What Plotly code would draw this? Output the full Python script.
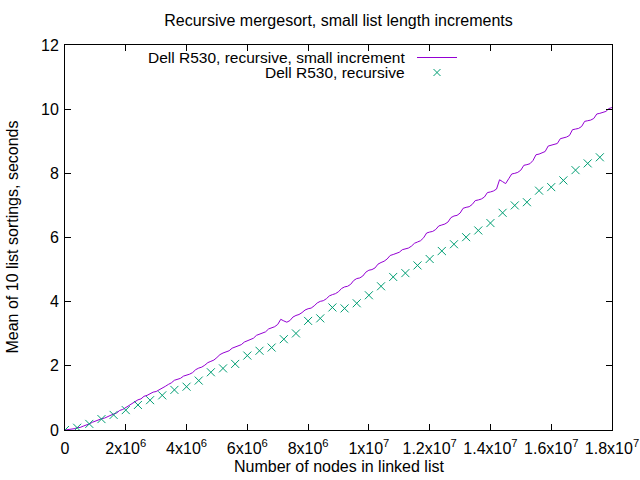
import plotly.graph_objects as go

# ---- data ----
# line series: list length in millions of nodes, mean time in seconds
line_millions = [
    0.0, 0.1, 0.2, 0.3, 0.4, 0.5, 0.6, 0.7, 0.8, 0.9,
    1.0, 1.1, 1.2, 1.3, 1.4, 1.5, 1.6, 1.7, 1.8, 1.9,
    2.0, 2.1, 2.2, 2.3, 2.4, 2.5, 2.6, 2.7, 2.8, 2.9,
    3.0, 3.1, 3.2, 3.3, 3.4, 3.5, 3.6, 3.7, 3.8, 3.9,
    4.0, 4.1, 4.2, 4.3, 4.4, 4.5, 4.6, 4.7, 4.8, 4.9,
    5.0, 5.1, 5.2, 5.3, 5.4, 5.5, 5.6, 5.7, 5.8, 5.9,
    6.0, 6.1, 6.2, 6.3, 6.4, 6.5, 6.6, 6.7, 6.8, 6.9,
    7.0, 7.1, 7.2, 7.3, 7.4, 7.5, 7.6, 7.7, 7.8, 7.9,
    8.0, 8.1, 8.2, 8.3, 8.4, 8.5, 8.6, 8.7, 8.8, 8.9,
    9.0, 9.1, 9.2, 9.3, 9.4, 9.5, 9.6, 9.7, 9.8, 9.9,
    10.0, 10.1, 10.2, 10.3, 10.4, 10.5, 10.6, 10.7, 10.8, 10.9,
    11.0, 11.1, 11.2, 11.3, 11.4, 11.5, 11.6, 11.7, 11.8, 11.9,
    12.0, 12.1, 12.2, 12.3, 12.4, 12.5, 12.6, 12.7, 12.8, 12.9,
    13.0, 13.1, 13.2, 13.3, 13.4, 13.5, 13.6, 13.7, 13.8, 13.9,
    14.0, 14.1, 14.2, 14.3, 14.4, 14.5, 14.6, 14.7, 14.8, 14.9,
    15.0, 15.1, 15.2, 15.3, 15.4, 15.5, 15.6, 15.7, 15.8, 15.9,
    16.0, 16.1, 16.2, 16.3, 16.4, 16.5, 16.6, 16.7, 16.8, 16.9,
    17.0, 17.1, 17.2, 17.3, 17.4, 17.5, 17.6, 17.7, 17.8, 17.9,
    18.0,
]
line_secs = [
    0.00, 0.01, 0.03, 0.04, 0.07, 0.08, 0.12, 0.15, 0.19, 0.24,
    0.28, 0.31, 0.35, 0.37, 0.42, 0.46, 0.50, 0.53, 0.61, 0.64,
    0.70, 0.76, 0.82, 0.86, 0.94, 0.97, 1.05, 1.08, 1.13, 1.18,
    1.20, 1.25, 1.29, 1.36, 1.42, 1.47, 1.55, 1.57, 1.61, 1.68,
    1.70, 1.74, 1.79, 1.88, 1.93, 1.96, 2.02, 2.10, 2.14, 2.18,
    2.26, 2.35, 2.40, 2.43, 2.47, 2.55, 2.59, 2.62, 2.66, 2.74,
    2.78, 2.82, 2.86, 2.95, 2.98, 3.02, 3.06, 3.15, 3.19, 3.22,
    3.29, 3.45, 3.40, 3.36, 3.41, 3.52, 3.57, 3.60, 3.66, 3.74,
    3.78, 3.80, 3.87, 3.96, 4.01, 4.03, 4.09, 4.18, 4.22, 4.25,
    4.31, 4.41, 4.46, 4.48, 4.54, 4.66, 4.72, 4.74, 4.80, 4.92,
    4.98, 5.00, 5.05, 5.17, 5.22, 5.26, 5.33, 5.44, 5.47, 5.50,
    5.54, 5.62, 5.65, 5.67, 5.73, 5.82, 5.86, 5.90, 5.99, 6.14,
    6.17, 6.19, 6.25, 6.36, 6.39, 6.42, 6.48, 6.62, 6.67, 6.69,
    6.76, 6.91, 6.94, 6.96, 7.03, 7.15, 7.17, 7.20, 7.26, 7.40,
    7.42, 7.45, 7.51, 7.80, 7.74, 7.68, 7.83, 7.98, 8.00, 8.03,
    8.10, 8.25, 8.27, 8.30, 8.40, 8.58, 8.60, 8.63, 8.68, 8.85,
    8.87, 8.89, 8.93, 9.08, 9.10, 9.13, 9.18, 9.36, 9.38, 9.40,
    9.46, 9.62, 9.64, 9.66, 9.71, 9.85, 9.87, 9.89, 9.93, 10.02,
    10.05,
]

# point series
point_millions = [
    0.0, 0.4, 0.8, 1.2, 1.6, 2.0, 2.4, 2.8, 3.2, 3.6,
    4.0, 4.4, 4.8, 5.2, 5.6, 6.0, 6.4, 6.8, 7.2, 7.6,
    8.0, 8.4, 8.8, 9.2, 9.6, 10.0, 10.4, 10.8, 11.2, 11.6,
    12.0, 12.4, 12.8, 13.2, 13.6, 14.0, 14.4, 14.8, 15.2, 15.6,
    16.0, 16.4, 16.8, 17.2, 17.6,
]
point_secs = [
    0.00, 0.07, 0.19, 0.34, 0.47, 0.62, 0.78, 0.93, 1.08, 1.25,
    1.35, 1.54, 1.80, 1.92, 2.06, 2.32, 2.47, 2.57, 2.83, 3.01,
    3.40, 3.48, 3.82, 3.79, 3.95, 4.20, 4.48, 4.77, 4.89, 5.13,
    5.33, 5.58, 5.79, 6.01, 6.22, 6.45, 6.77, 7.00, 7.10, 7.46,
    7.57, 7.78, 8.10, 8.31, 8.50,
]

x_tickvals = [0, 2e6, 4e6, 6e6, 8e6, 1e7, 1.2e7, 1.4e7, 1.6e7, 1.8e7]
x_ticktext = ["0", "2x10<sup>6</sup>", "4x10<sup>6</sup>", "6x10<sup>6</sup>", "8x10<sup>6</sup>",
              "1x10<sup>7</sup>", "1.2x10<sup>7</sup>", "1.4x10<sup>7</sup>", "1.6x10<sup>7</sup>",
              "1.8x10<sup>7</sup>"]
y_tickvals = [0, 2, 4, 6, 8, 10, 12]

series_names = ["Dell R530, recursive, small increment", "Dell R530, recursive"]
line_color = "#9400d3"
point_color = "#009e73"

FONT = "Liberation Sans, Arial, sans-serif"
FS = 16
KEY_FS = 15.5

fig = go.Figure()
fig.add_trace(go.Scatter(x=[v * 1e6 for v in line_millions], y=line_secs, mode="lines",
                         name=series_names[0], line=dict(color=line_color, width=1), showlegend=False))
fig.add_trace(go.Scatter(x=[v * 1e6 for v in point_millions], y=point_secs, mode="markers",
                         name=series_names[1],
                         marker=dict(symbol="x-thin", size=8, line=dict(color=point_color, width=1),
                                     color=point_color), showlegend=False))

W, H = 640, 480
L, R, T, B = 65, 28, 45, 50
pw, ph = W - L - R, H - T - B

def px(xp):
    return (xp - L) / pw

def py(yp):
    return (H - B - yp) / ph

# gnuplot-style key: text right-aligned, sample on the right
annotations = [
    dict(text=series_names[0], x=px(407), y=py(57), xref="paper", yref="paper",
         xanchor="right", yanchor="middle", showarrow=False,
         font=dict(size=KEY_FS, color="black", family=FONT)),
    dict(text=series_names[1], x=px(407), y=py(72), xref="paper", yref="paper",
         xanchor="right", yanchor="middle", showarrow=False,
         font=dict(size=KEY_FS, color="black", family=FONT)),
    dict(text="Mean of 10 list sortings, seconds", x=px(11.5), y=py(237), xref="paper", yref="paper",
         textangle=-90, xanchor="center", yanchor="middle", showarrow=False,
         font=dict(size=FS, color="black", family=FONT)),
    dict(text="Number of nodes in linked list", x=px(338.5), y=py(466), xref="paper", yref="paper",
         xanchor="center", yanchor="middle", showarrow=False,
         font=dict(size=FS, color="black", family=FONT)),
]

shapes = [
    dict(type="line", xref="paper", yref="paper", x0=px(417), x1=px(457), y0=py(57.5), y1=py(57.5),
         line=dict(color=line_color, width=1)),
    dict(type="path", xref="paper", yref="paper",
         path=f"M {px(433.5)} {py(69)} L {px(440.5)} {py(76)} M {px(433.5)} {py(76)} L {px(440.5)} {py(69)}",
         line=dict(color=point_color, width=1)),
]

fig.update_layout(
    width=W, height=H,
    margin=dict(l=L, r=R, t=T, b=B, autoexpand=False),
    paper_bgcolor="white", plot_bgcolor="white",
    font=dict(family=FONT, size=FS, color="black"),
    title=dict(text="Recursive mergesort, small list length increments", x=(L + pw / 2) / W,
               xanchor="center", y=1 - 20 / H, yanchor="middle", font=dict(size=FS)),
    annotations=annotations, shapes=shapes,
    showlegend=False,
)
fig.update_xaxes(range=[0, 1.8e7], tickvals=x_tickvals, ticktext=x_ticktext,
                 ticks="inside", ticklen=6, tickcolor="black", showline=True, linecolor="black",
                 linewidth=1, mirror="ticks", showgrid=False, zeroline=False, automargin=False,
                 tickfont=dict(size=FS), ticklabelstandoff=4)
fig.update_yaxes(range=[0, 12], tickvals=y_tickvals,
                 ticks="inside", ticklen=6, tickcolor="black", showline=True, linecolor="black",
                 linewidth=1, mirror="ticks", showgrid=False, zeroline=False, automargin=False,
                 tickfont=dict(size=FS), ticklabelstandoff=2)

fig.write_html("out.html")
